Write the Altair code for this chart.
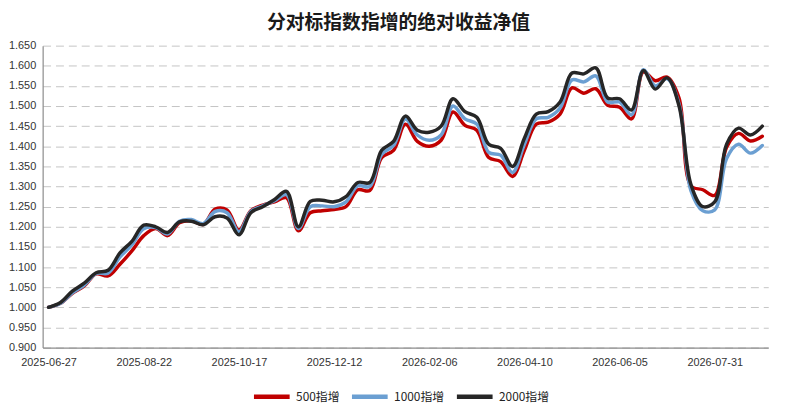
import altair as alt
import pandas as pd

dates = [
    "2025-06-27", "2025-07-04", "2025-07-11", "2025-07-18", "2025-07-25", "2025-08-01",
    "2025-08-08", "2025-08-15", "2025-08-22", "2025-08-29", "2025-09-05", "2025-09-12",
    "2025-09-19", "2025-09-26", "2025-10-03", "2025-10-10", "2025-10-17", "2025-10-24",
    "2025-10-31", "2025-11-07", "2025-11-14", "2025-11-21", "2025-11-28", "2025-12-05",
    "2025-12-12", "2025-12-19", "2025-12-26", "2026-01-02", "2026-01-09", "2026-01-16",
    "2026-01-23", "2026-01-30", "2026-02-06", "2026-02-13", "2026-02-27", "2026-03-06",
    "2026-03-13", "2026-03-20", "2026-03-27", "2026-04-03", "2026-04-10", "2026-04-17",
    "2026-04-24", "2026-05-01", "2026-05-08", "2026-05-15", "2026-05-22", "2026-05-29",
    "2026-06-05", "2026-06-12", "2026-06-19", "2026-06-26", "2026-07-03", "2026-07-10",
    "2026-07-17", "2026-07-24", "2026-07-31", "2026-08-07", "2026-08-14", "2026-08-21",
    "2026-08-28",
]

s500 = [
    1.000, 1.010, 1.035, 1.053, 1.083, 1.078, 1.107, 1.140, 1.178, 1.196,
    1.178, 1.210, 1.215, 1.206, 1.244, 1.242, 1.192, 1.240, 1.254, 1.262,
    1.272, 1.190, 1.235, 1.240, 1.243, 1.250, 1.292, 1.290, 1.372, 1.390,
    1.455, 1.412, 1.400, 1.415, 1.485, 1.452, 1.440, 1.372, 1.362, 1.325,
    1.390, 1.455, 1.460, 1.480, 1.545, 1.532, 1.543, 1.502, 1.497, 1.468,
    1.585, 1.563, 1.572, 1.520, 1.302, 1.292, 1.278, 1.398, 1.432, 1.413,
    1.425,
]

s1000 = [
    1.000, 1.010, 1.036, 1.055, 1.084, 1.085, 1.125, 1.155, 1.195, 1.198,
    1.182, 1.214, 1.218, 1.208, 1.238, 1.235, 1.188, 1.238, 1.252, 1.265,
    1.280, 1.196, 1.250, 1.252, 1.250, 1.262, 1.302, 1.300, 1.380, 1.402,
    1.468, 1.428, 1.415, 1.428, 1.500, 1.468, 1.455, 1.385, 1.378, 1.335,
    1.405, 1.468, 1.472, 1.495, 1.565, 1.560, 1.575, 1.510, 1.510, 1.478,
    1.590, 1.550, 1.568, 1.505, 1.290, 1.240, 1.242, 1.370, 1.405, 1.383,
    1.402,
]

s2000 = [
    1.000, 1.012, 1.040, 1.060, 1.086, 1.092, 1.135, 1.164, 1.204, 1.200,
    1.186, 1.212, 1.214, 1.205, 1.225, 1.222, 1.180, 1.235, 1.250, 1.268,
    1.288, 1.200, 1.263, 1.266, 1.262, 1.275, 1.310, 1.310, 1.390, 1.412,
    1.475, 1.440, 1.435, 1.450, 1.518, 1.486, 1.472, 1.405, 1.395, 1.350,
    1.420, 1.480, 1.486, 1.510, 1.582, 1.580, 1.595, 1.520, 1.518, 1.490,
    1.588, 1.542, 1.570, 1.500, 1.305, 1.250, 1.262, 1.405, 1.445, 1.428,
    1.450,
]

series_names = ["500指增", "1000指增", "2000指增"]
series_colors = ["#C00000", "#6B9FD2", "#262626"]

x_tick_labels = ["2025-06-27", "2025-08-22", "2025-10-17", "2025-12-12",
                 "2026-02-06", "2026-04-10", "2026-06-05", "2026-07-31"]
y_ticks = [0.90, 0.95, 1.00, 1.05, 1.10, 1.15, 1.20, 1.25, 1.30,
           1.35, 1.40, 1.45, 1.50, 1.55, 1.60, 1.65]

rows = []
for name, vals in zip(series_names, [s500, s1000, s2000]):
    for d, v in zip(dates, vals):
        rows.append({"date": d, "series": name, "value": v})
df = pd.DataFrame(rows)

num_font = "Liberation Sans"
cjk_font = "Noto Sans CJK SC"

chart = alt.Chart(df).mark_line(
    strokeWidth=3.5, interpolate="catmull-rom", strokeJoin="round", strokeCap="round"
).encode(
    x=alt.X(
        "date:O",
        sort=dates,
        scale=alt.Scale(type="point", padding=0.5),
        axis=alt.Axis(
            values=x_tick_labels, title=None, labelAngle=0, ticks=False,
            domainColor="#8c8c8c", domainWidth=1.2, labelPadding=9,
            labelFontSize=11, labelColor="#333333", labelFont=num_font, grid=False,
        ),
    ),
    y=alt.Y(
        "value:Q",
        scale=alt.Scale(domain=[0.9, 1.65], nice=False, zero=False),
        axis=alt.Axis(
            values=y_ticks, format=".3f", title=None, ticks=False, grid=True,
            gridDash=[8, 5], gridColor="#c4c4c4", gridWidth=1,
            domainColor="#8c8c8c", domainWidth=1.2, labelPadding=7,
            labelFontSize=11, labelColor="#333333", labelFont=num_font,
        ),
    ),
    color=alt.Color(
        "series:N",
        sort=series_names,
        scale=alt.Scale(domain=series_names, range=series_colors),
        legend=alt.Legend(
            title=None, orient="none", legendX=211, legendY=334,
            direction="horizontal", symbolType="stroke", symbolStrokeWidth=4.5,
            symbolSize=1300, labelFontSize=12, labelFont=cjk_font,
            labelColor="#222222", columnPadding=3, labelOffset=4, padding=0,
        ),
    ),
).properties(
    width=733,
    height=305,
    title=alt.TitleParams(
        text="分对标指数指增的绝对收益净值", anchor="middle", fontSize=19,
        font=cjk_font, fontWeight="bold", color="#1a1a1a", offset=7, dx=-7,
    ),
    autosize=alt.AutoSizeParams(type="none"),
    padding={"left": 35, "top": 36, "right": 24, "bottom": 57},
    background="white",
).configure_view(stroke=None)

chart.save("out.html", embed_options={"renderer": "svg", "actions": False})
